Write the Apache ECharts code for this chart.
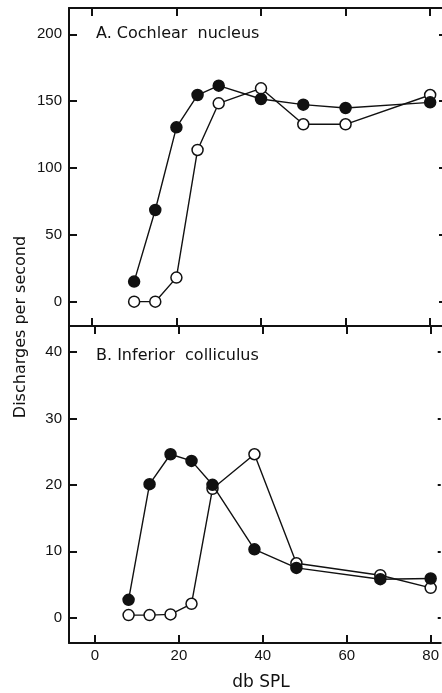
<!DOCTYPE html>
<html>
<head>
<meta charset="utf-8">
<script src="https://cdn.jsdelivr.net/npm/echarts@6/dist/echarts.min.js"></script>
<style>
  html, body { margin: 0; padding: 0; background: #fff; }
  #chart { width: 442px; height: 693px; }
</style>
</head>
<body>
<div id="chart"></div>
<script>
// dB SPL levels
var xA = [10, 15, 20, 25, 30, 40, 50, 60, 80];
var xB = [8, 13, 18, 23, 28, 38, 48, 68, 80];

// A. Cochlear nucleus
var cnFilled = [15, 68.6, 130.4, 154.6, 161.6, 151.6, 147.4, 144.9, 149.1];
var cnOpen = [0, 0, 18, 113.5, 148.4, 159.6, 132.7, 132.7, 154.6];

// B. Inferior colliculus
var icFilled = [2.7, 20.1, 24.6, 23.6, 20, 10.3, 7.5, 5.8, 5.9];
var icOpen = [0.4, 0.4, 0.5, 2.1, 19.4, 24.6, 8.2, 6.4, 4.5];

var xTicks = [0, 20, 40, 60, 80];
var yTicksA = [0, 50, 100, 150, 200];
var yTicksB = [0, 10, 20, 30, 40];

function pairs(xs, ys) {
    var out = [];
    for (var i = 0; i < xs.length; i++) {
        out.push([xs[i], ys[i]]);
    }
    return out;
}

var font = 'Liberation Sans, Arial, sans-serif';
var textFont = 'DejaVu Sans, sans-serif';
var black = '#111';

// x axis with inward ticks, labels optional
function xAxisDef(grid, pos, min, max, showLabel) {
    return {
        type: 'value',
        gridIndex: grid,
        position: pos,
        min: min,
        max: max,
        splitLine: { show: false },
        axisLine: { show: true, onZero: false, lineStyle: { color: black, width: 2 } },
        axisTick: { show: true, inside: true, length: 8, customValues: xTicks,
            lineStyle: { color: black, width: 2 } },
        axisLabel: { show: showLabel, customValues: xTicks, margin: 5,
            color: black, fontSize: 15, fontFamily: font }
    };
}

function yAxisDef(grid, min, max, ticks) {
    return {
        type: 'value',
        gridIndex: grid,
        position: 'left',
        min: min,
        max: max,
        splitLine: { show: false },
        axisLine: { show: true, onZero: false, lineStyle: { color: black, width: 2 } },
        axisTick: { show: true, inside: true, length: 8, customValues: ticks,
            lineStyle: { color: black, width: 2 } },
        axisLabel: { show: true, customValues: ticks, margin: 7,
            color: black, fontSize: 15, fontFamily: font }
    };
}

function rightAxisDef(grid, min, max, ticks) {
    return {
        type: 'value',
        gridIndex: grid,
        position: 'right',
        min: min,
        max: max,
        splitLine: { show: false },
        axisLine: { show: false, onZero: false },
        axisTick: { show: true, inside: true, length: 3, customValues: ticks,
            lineStyle: { color: black, width: 2 } },
        axisLabel: { show: false }
    };
}

function lineSeries(xi, yi, data, filled) {
    return {
        type: 'line',
        xAxisIndex: xi,
        yAxisIndex: yi,
        data: data,
        symbol: 'circle',
        symbolSize: 11,
        lineStyle: { color: black, width: 1.4 },
        itemStyle: { color: filled ? black : '#fff', borderColor: black, borderWidth: 1.5 },
        z: filled ? 3 : 2,
        animation: false
    };
}

var myChart = echarts.init(document.getElementById('chart'));
var option = {
    animation: false,
    grid: [
        { left: 69, width: 373, top: 8, height: 318 },
        { left: 69, width: 373, top: 326, height: 317 }
    ],
    xAxis: [
        xAxisDef(0, 'bottom', -5.4, 82.8, false),
        xAxisDef(0, 'top', -5.4, 82.8, false),
        xAxisDef(1, 'bottom', -6.2, 82.4, true),
        xAxisDef(1, 'top', -6.2, 82.4, false)
    ],
    yAxis: [
        yAxisDef(0, -18.2, 219.7, yTicksA),
        yAxisDef(1, -3.8, 43.9, yTicksB),
        rightAxisDef(0, -18.2, 219.7, yTicksA),
        rightAxisDef(1, -3.8, 43.9, yTicksB)
    ],
    graphic: [
        {
            type: 'text', x: 96, y: 34,
            style: { text: 'A. Cochlear  nucleus', font: '16px ' + textFont, fill: black,
                align: 'left', verticalAlign: 'middle' }
        },
        {
            type: 'text', x: 96, y: 356,
            style: { text: 'B. Inferior  colliculus', font: '16px ' + textFont, fill: black,
                align: 'left', verticalAlign: 'middle' }
        },
        {
            type: 'text', x: 21, y: 327, rotation: Math.PI / 2,
            style: { text: 'Discharges per second', font: '16px ' + textFont, fill: black,
                align: 'center', verticalAlign: 'middle' }
        },
        {
            type: 'text', x: 261, y: 683,
            style: { text: 'db SPL', font: '17px ' + textFont, fill: black,
                align: 'center', verticalAlign: 'middle' }
        }
    ],
    series: [
        lineSeries(0, 0, pairs(xA, cnOpen), false),
        lineSeries(0, 0, pairs(xA, cnFilled), true),
        lineSeries(2, 1, pairs(xB, icOpen), false),
        lineSeries(2, 1, pairs(xB, icFilled), true)
    ]
};
myChart.setOption(option);
</script>
</body>
</html>
